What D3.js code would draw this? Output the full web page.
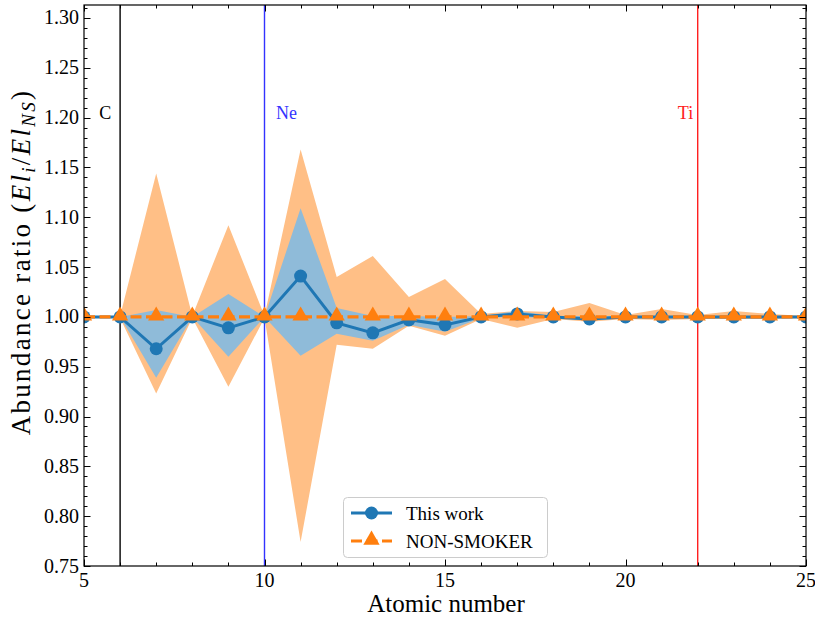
<!DOCTYPE html>
<html>
<head>
<meta charset="utf-8">
<script src="https://cdn.jsdelivr.net/npm/d3@7"></script>
<style>
  body { margin: 0; background: #fff; }
  svg { display: block; font-family: "Liberation Serif", "DejaVu Serif", serif; }
</style>
</head>
<body>
<svg id="chart" width="815" height="621"></svg>
<script>
// atomic numbers
var zValues = [5, 6, 7, 8, 9, 10, 11, 12, 13, 14, 15, 16, 17, 18, 19, 20, 21, 22, 23, 24, 25];
// this work, ratio to NON-SMOKER
var thisWork = [1.000, 1.000, 0.968, 1.000, 0.989, 1.000, 1.041, 0.994, 0.984, 0.997, 0.992, 1.000, 1.003, 1.000, 0.998, 1.000, 1.000, 1.000, 1.000, 1.000, 1.000];
var thisWorkHi = [1.000, 1.000, 1.007, 1.000, 1.023, 1.000, 1.109, 1.009, 1.001, 1.001, 1.000, 1.001, 1.006, 1.001, 1.001, 1.001, 1.001, 1.000, 1.001, 1.001, 1.000];
var thisWorkLo = [1.000, 1.000, 0.939, 1.000, 0.960, 1.000, 0.961, 0.983, 0.976, 0.992, 0.985, 0.999, 1.000, 0.999, 0.996, 0.999, 0.999, 1.000, 0.999, 0.999, 1.000];
var nonSmoker = [1.000, 1.000, 1.000, 1.000, 1.000, 1.000, 1.000, 1.000, 1.000, 1.000, 1.000, 1.000, 1.000, 1.000, 1.000, 1.000, 1.000, 1.000, 1.000, 1.000, 1.000];
var nonSmokerHi = [1.001, 1.001, 1.144, 1.001, 1.092, 1.001, 1.168, 1.040, 1.061, 1.020, 1.038, 1.003, 1.006, 1.005, 1.014, 1.002, 1.008, 1.002, 1.006, 1.003, 1.001];
var nonSmokerLo = [0.999, 0.999, 0.923, 0.999, 0.930, 0.999, 0.774, 0.972, 0.968, 0.991, 0.981, 0.998, 0.989, 0.998, 0.995, 0.998, 0.997, 0.998, 0.998, 0.998, 0.999];
// marked elements
var markNames = ["C", "Ne", "Ti"];
var markZ = [6, 10, 22];
var markColors = ["#000000", "#3333ff", "#ff2020"];
var markLabelZ = [5.42, 10.32, 21.45];
var xTicks = [5, 10, 15, 20, 25];
var yTicks = [0.75, 0.80, 0.85, 0.90, 0.95, 1.00, 1.05, 1.10, 1.15, 1.20, 1.25, 1.30];

var svg = d3.select("#chart");
var pLeft = 84, pRight = 806, pTop = 5, pBottom = 566;

var x = d3.scaleLinear().domain([5, 25]).range([pLeft, pRight]);
var y = d3.scaleLinear().domain([0.75, 1.313]).range([pBottom, pTop]);

svg.append("clipPath").attr("id", "plotclip")
  .append("rect").attr("x", pLeft).attr("y", pTop).attr("width", pRight - pLeft).attr("height", pBottom - pTop);

var plot = svg.append("g").attr("clip-path", "url(#plotclip)");

function band(lo, hi) {
  return d3.area()
    .x(function(d, i) { return x(zValues[i]); })
    .y0(function(d, i) { return y(lo[i]); })
    .y1(function(d, i) { return y(hi[i]); })(zValues);
}

plot.append("path").attr("d", band(nonSmokerLo, nonSmokerHi)).attr("fill", "#ffbf86");
plot.append("path").attr("d", band(thisWorkLo, thisWorkHi)).attr("fill", "#8fbbd9");

// vertical marker lines
markZ.forEach(function(z, i) {
  plot.append("line")
    .attr("x1", x(z)).attr("x2", x(z))
    .attr("y1", pTop).attr("y2", pBottom)
    .attr("stroke", markColors[i]).attr("stroke-width", 1.4);
  plot.append("text")
    .attr("x", x(markLabelZ[i])).attr("y", y(1.2) + 1)
    .attr("fill", markColors[i])
    .attr("font-size", 18)
    .text(markNames[i]);
});

var line = function(vals) {
  return d3.line()
    .x(function(d, i) { return x(zValues[i]); })
    .y(function(d, i) { return y(vals[i]); })(zValues);
};

plot.append("path").attr("d", line(thisWork))
  .attr("fill", "none").attr("stroke", "#1f77b4").attr("stroke-width", 3);
plot.selectAll("circle.tw").data(thisWork).enter().append("circle")
  .attr("class", "tw")
  .attr("cx", function(d, i) { return x(zValues[i]); })
  .attr("cy", function(d) { return y(d); })
  .attr("r", 6.5)
  .attr("fill", "#1f77b4");

var tri = d3.symbol().type(d3.symbolTriangle).size(115);
plot.append("path").attr("d", line(nonSmoker))
  .attr("fill", "none").attr("stroke", "#ff7f0e").attr("stroke-width", 3.2)
  .attr("stroke-dasharray", "11,4.5");
plot.selectAll("path.ns").data(nonSmoker).enter().append("path")
  .attr("class", "ns")
  .attr("d", tri)
  .attr("transform", function(d, i) { return "translate(" + x(zValues[i]) + "," + (y(d) - 1) + ")"; })
  .attr("fill", "#ff7f0e");

// axes: inward ticks on all four sides
var axisG = svg.append("g");
var xMinor = d3.range(5, 26, 1);
var yMinor = d3.range(75, 132, 1).map(function(v) { return v / 100; });

function tickLines(vals, scale, horiz, len) {
  vals.forEach(function(v) {
    var p = Math.round(scale(v)) + 0.5;
    if (horiz) {
      axisG.append("line").attr("x1", p).attr("x2", p).attr("y1", pBottom).attr("y2", pBottom - len).attr("stroke", "#000");
      axisG.append("line").attr("x1", p).attr("x2", p).attr("y1", pTop).attr("y2", pTop + len).attr("stroke", "#000");
    } else {
      axisG.append("line").attr("y1", p).attr("y2", p).attr("x1", pLeft).attr("x2", pLeft + len).attr("stroke", "#000");
      axisG.append("line").attr("y1", p).attr("y2", p).attr("x1", pRight).attr("x2", pRight - len).attr("stroke", "#000");
    }
  });
}
tickLines(xMinor, x, true, 3.5);
tickLines(xTicks, x, true, 6.5);
tickLines(yMinor, y, false, 3.5);
tickLines(yTicks, y, false, 6.5);

axisG.append("rect").attr("x", pLeft).attr("y", pTop).attr("width", pRight - pLeft).attr("height", pBottom - pTop)
  .attr("fill", "none").attr("stroke", "#000").attr("stroke-width", 1.2);

axisG.selectAll("text.xt").data(xTicks).enter().append("text")
  .attr("class", "xt")
  .attr("x", function(d) { return x(d); })
  .attr("y", pBottom + 21)
  .attr("text-anchor", "middle")
  .attr("font-size", 20)
  .text(function(d) { return d; });

axisG.selectAll("text.yt").data(yTicks).enter().append("text")
  .attr("class", "yt")
  .attr("x", pLeft - 5)
  .attr("y", function(d) { return y(d) + 6.5; })
  .attr("text-anchor", "end")
  .attr("font-size", 20)
  .text(function(d) { return d.toFixed(2); });

svg.append("text")
  .attr("x", (pLeft + pRight) / 2 + 1).attr("y", 612)
  .attr("text-anchor", "middle")
  .attr("font-size", 25)
  .text("Atomic number");

var yl = svg.append("text")
  .attr("transform", "translate(30,262) rotate(-90)")
  .attr("text-anchor", "middle")
  .attr("font-size", 27)
  .attr("letter-spacing", 2.3);
yl.append("tspan").text("Abundance ratio (");
yl.append("tspan").attr("font-style", "italic").text("El");
yl.append("tspan").attr("font-style", "italic").attr("font-size", 19).attr("dy", 5).text("i");
yl.append("tspan").attr("dy", -5).text("/");
yl.append("tspan").attr("font-style", "italic").text("El");
yl.append("tspan").attr("font-style", "italic").attr("font-size", 19).attr("dy", 5).text("NS");
yl.append("tspan").attr("dy", -5).text(")");

// legend
var lg = svg.append("g").attr("transform", "translate(343,497)");
lg.append("rect").attr("x", 0.5).attr("y", 0.5).attr("width", 204).attr("height", 60).attr("rx", 4)
  .attr("fill", "#fff").attr("fill-opacity", 0.8).attr("stroke", "#cccccc");
lg.append("line").attr("x1", 8).attr("x2", 49).attr("y1", 16).attr("y2", 16)
  .attr("stroke", "#1f77b4").attr("stroke-width", 3);
lg.append("circle").attr("cx", 28.5).attr("cy", 16).attr("r", 6.5).attr("fill", "#1f77b4");
lg.append("line").attr("x1", 8).attr("x2", 49).attr("y1", 44).attr("y2", 44)
  .attr("stroke", "#ff7f0e").attr("stroke-width", 3.2).attr("stroke-dasharray", "11,4.5");
lg.append("path").attr("d", tri).attr("transform", "translate(28.5,43)").attr("fill", "#ff7f0e");
lg.append("text").attr("x", 63).attr("y", 23).attr("font-size", 19).text("This work");
lg.append("text").attr("x", 63).attr("y", 51).attr("font-size", 19).text("NON-SMOKER");
</script>
</body>
</html>
